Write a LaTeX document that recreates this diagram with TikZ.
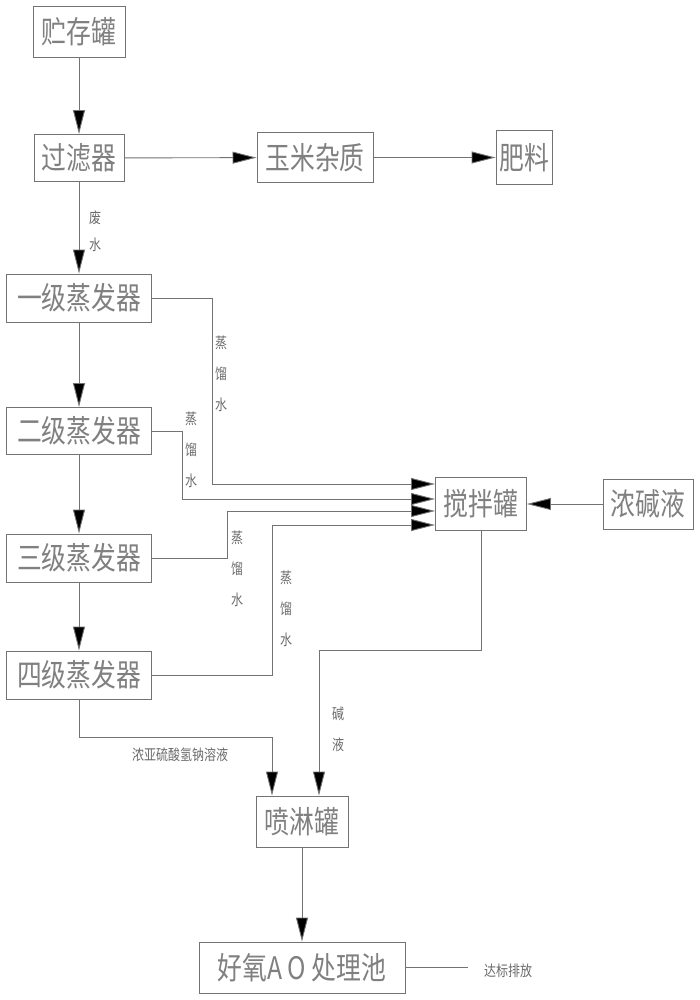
\documentclass[tikz,border=0pt]{standalone}
\usepackage{fontspec}
\newfontfamily\cjk[FakeStretch=0.8]{Noto Sans CJK SC}
\usetikzlibrary{arrows.meta}
\tikzset{
  box/.style={draw=black!55, line width=0.9pt, inner sep=0pt, text=black!50,
    font=\cjk\fontsize{31}{31}\selectfont},
  lbl/.style={text=black!58, align=center, inner sep=0pt,
    font=\cjk\fontsize{15}{31}\selectfont},
  line/.style={draw=black!55, line width=0.9pt},
  arr/.style={line, -{Triangle[length=24pt,width=12pt,fill=black]}},
}
\begin{document}
\begin{tikzpicture}[x=1pt,y=-1pt]
\useasboundingbox[fill=white] (0,0) rectangle (699,1000);
% boxes
\node[box, minimum width=92pt, minimum height=51pt] (st) at (79,31.5) {贮存罐};
\node[box, minimum width=90pt, minimum height=47pt] (fl) at (79,158) {过滤器};
\node[box, minimum width=116pt, minimum height=50pt] (cz) at (315,157.5) {玉米杂质};
\node[box, minimum width=56pt, minimum height=54pt] (fe) at (524,157.5) {肥料};
\node[box, minimum width=145pt, minimum height=48pt] (e1) at (79,298) {一级蒸发器};
\node[box, minimum width=145pt, minimum height=47pt] (e2) at (79,431) {二级蒸发器};
\node[box, minimum width=145pt, minimum height=48pt] (e3) at (79,558) {三级蒸发器};
\node[box, minimum width=145pt, minimum height=48pt] (e4) at (79,675) {四级蒸发器};
\node[box, minimum width=91pt, minimum height=53pt] (mix) at (481,504) {搅拌罐};
\node[box, minimum width=90pt, minimum height=50pt] (alk) at (648,504) {浓碱液};
\node[box, minimum width=92pt, minimum height=51pt] (sp) at (302,821.5) {喷淋罐};
\node[box, minimum width=206pt, minimum height=51pt] (ao) at (302,967.5) {好氧A\,O 处理池};
% main flow
\draw[arr] (st) -- (fl);
\draw[arr] (fl) -- (cz);
\draw[arr] (cz) -- (fe);
\draw[arr] (fl) -- (e1);
\draw[arr] (e1) -- (e2);
\draw[arr] (e2) -- (e3);
\draw[arr] (e3) -- (e4);
% distilled water to mixing tank
\coordinate (m1) at (212,484);
\coordinate (m2) at (182,499);
\coordinate (m3) at (227,511);
\coordinate (m4) at (272,525);
\draw[arr] (e1.east) -| (m1) -- (m1 -| mix.west);
\draw[arr] (e2.east) -| (m2) -- (m2 -| mix.west);
\draw[arr] (e3.east) -| (m3) -- (m3 -| mix.west);
\draw[arr] (e4.east) -| (m4) -- (m4 -| mix.west);
\draw[arr] (alk) -- (mix);
% alkali to spray tank
\coordinate (k) at (319,650);
\draw[arr] (mix.south) |- (k) -- (k |- sp.north);
% bisulfite to spray tank
\coordinate (s) at (272,737);
\draw[arr] (e4.south) |- (s) -- (s |- sp.north);
\draw[arr] (sp) -- (ao);
\coordinate (out) at (468,967.5);
\draw[line] (ao.east) -- (out);
% labels
\node[lbl, font=\cjk\fontsize{15}{27}\selectfont] (l0) at (95,231) {废\\水};
\node[lbl] (l1) at (221,374) {蒸\\馏\\水};
\node[lbl] (l2) at (191,449.5) {蒸\\馏\\水};
\node[lbl] (l3) at (237,569) {蒸\\馏\\水};
\node[lbl] (l4) at (286,609) {蒸\\馏\\水};
\node[lbl] (l5) at (338,729.5) {碱\\液};
\node[lbl] (l6) at (180,755) {浓亚硫酸氢钠溶液};
\node[lbl] (l7) at (508,971) {达标排放};
\end{tikzpicture}
\end{document}
